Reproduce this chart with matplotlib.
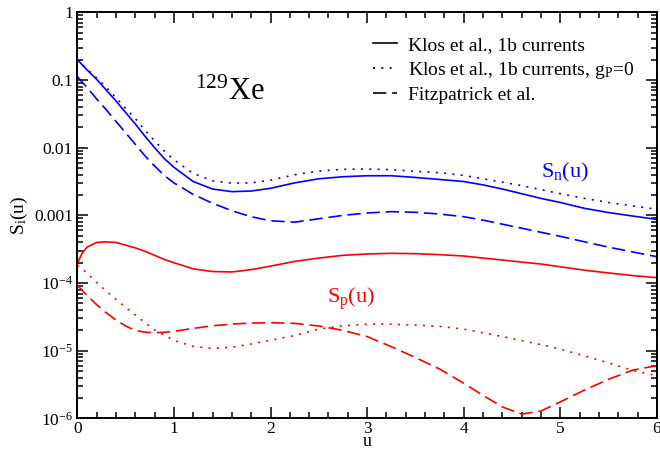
import matplotlib
matplotlib.use("Agg")
import matplotlib.pyplot as plt
from matplotlib.lines import Line2D
from matplotlib.ticker import FixedLocator, FixedFormatter, LogLocator, MultipleLocator, NullFormatter

plt.rcParams["font.family"] = ["Liberation Serif", "DejaVu Serif"]
plt.rcParams["mathtext.fontset"] = "custom"
plt.rcParams["mathtext.rm"] = "Liberation Serif"
plt.rcParams["mathtext.it"] = "Liberation Serif:italic"

# momentum transfer u
u = [0.0, 0.05, 0.1, 0.2, 0.3, 0.4, 0.5, 0.6, 0.7, 0.8, 0.9, 1.0,
     1.2, 1.4, 1.6, 1.8, 2.0, 2.25, 2.5, 2.75, 3.0, 3.25, 3.5, 3.75, 4.0,
     4.2, 4.4, 4.6, 4.8, 5.0, 5.25, 5.5, 5.75, 6.0]

# S_n(u)
sn_klos = [0.200, 0.168, 0.1413, 0.1023, 0.0708, 0.0490, 0.0331, 0.02239, 0.01479,
           0.0100, 0.00692, 0.00513, 0.00316, 0.00245, 0.00224, 0.00229, 0.00251,
           0.00302, 0.00347, 0.00372, 0.00385, 0.00385, 0.00363, 0.00339, 0.00316,
           0.00282, 0.00245, 0.00209, 0.00178, 0.00155, 0.00127, 0.00110, 0.000977, 0.000871]
sn_klos_gp0 = [0.200, 0.170, 0.1445, 0.107, 0.0776, 0.0550, 0.0380, 0.0269, 0.0182,
               0.0126, 0.00891, 0.00661, 0.00417, 0.00324, 0.00299, 0.00302, 0.00331,
               0.00398, 0.00452, 0.00479, 0.00484, 0.00473, 0.00447, 0.00427, 0.00389,
               0.00347, 0.00309, 0.00275, 0.00240, 0.00209, 0.00178, 0.00155, 0.00138, 0.00123]
sn_fitz = [0.1122, 0.0933, 0.0776, 0.0525, 0.0363, 0.0245, 0.0166, 0.01122, 0.00759,
           0.00537, 0.00389, 0.00302, 0.00204, 0.00151, 0.00117, 0.000955, 0.000832,
           0.000794, 0.000891, 0.001000, 0.001084, 0.001135, 0.001109, 0.001047, 0.000955,
           0.000851, 0.000741, 0.000646, 0.000562, 0.000490, 0.000407, 0.000339, 0.000288, 0.000245]

# S_p(u)
sp_klos = [1.95e-4, 2.75e-4, 3.39e-4, 3.98e-4, 4.07e-4, 3.98e-4, 3.63e-4, 3.31e-4, 2.95e-4,
           2.57e-4, 2.24e-4, 2.00e-4, 1.62e-4, 1.48e-4, 1.46e-4, 1.58e-4, 1.78e-4,
           2.09e-4, 2.34e-4, 2.57e-4, 2.69e-4, 2.75e-4, 2.72e-4, 2.63e-4, 2.51e-4,
           2.34e-4, 2.19e-4, 2.04e-4, 1.91e-4, 1.74e-4, 1.55e-4, 1.41e-4, 1.29e-4, 1.20e-4]
sp_klos_gp0 = [1.82e-4, 1.62e-4, 1.41e-4, 1.02e-4, 7.59e-5, 5.75e-5, 4.37e-5, 3.39e-5, 2.60e-5,
               2.04e-5, 1.70e-5, 1.43e-5, 1.16e-5, 1.08e-5, 1.13e-5, 1.26e-5, 1.43e-5,
               1.68e-5, 2.09e-5, 2.34e-5, 2.47e-5, 2.47e-5, 2.40e-5, 2.29e-5, 2.09e-5,
               1.84e-5, 1.62e-5, 1.41e-5, 1.23e-5, 1.06e-5, 8.41e-6, 6.61e-6, 5.13e-6, 4.27e-6]
sp_fitz = [9.33e-5, 7.76e-5, 6.61e-5, 4.79e-5, 3.63e-5, 2.85e-5, 2.32e-5, 2.00e-5, 1.88e-5,
           1.85e-5, 1.875e-5, 1.94e-5, 2.14e-5, 2.34e-5, 2.48e-5, 2.57e-5, 2.60e-5,
           2.54e-5, 2.32e-5, 2.00e-5, 1.62e-5, 1.15e-5, 7.94e-6, 5.37e-6, 3.31e-6,
           2.19e-6, 1.48e-6, 1.16e-6, 1.29e-6, 1.76e-6, 2.63e-6, 3.80e-6, 5.19e-6, 6.03e-6]

legend_labels = ["Klos et al., 1b currents",
                 r"Klos et al., 1b currents, g$_\mathrm{P}$=0",
                 "Fitzpatrick et al."]
ytick_vals = [1, 0.1, 0.01, 0.001, 1e-4, 1e-5, 1e-6]
ytick_labels = ["1", "0.1", "0.01", "0.001", r"$10^{-4}$", r"$10^{-5}$", r"$10^{-6}$"]

BLUE = "#0000ff"
RED = "#ff0000"
LW = 1.2
SOLID = "-"
DOT = (0, (1.2, 3.8))
DASH = (0, (8, 3.5))

fig = plt.figure(figsize=(6.6, 4.51), dpi=100)
ax = fig.add_axes([0.1171, 0.0721, 0.8783, 0.9007])

ax.plot(u, sn_klos, color=BLUE, lw=LW, ls=SOLID)
ax.plot(u, sn_klos_gp0, color=BLUE, lw=LW, ls=DOT)
ax.plot(u, sn_fitz, color=BLUE, lw=LW, ls=DASH)
ax.plot(u, sp_klos, color=RED, lw=LW, ls=SOLID)
ax.plot(u, sp_klos_gp0, color=RED, lw=LW, ls=DOT)
ax.plot(u, sp_fitz, color=RED, lw=LW, ls=DASH)

ax.set_yscale("log")
ax.set_xlim(0, 6)
ax.set_ylim(1e-6, 1)

ax.xaxis.set_major_locator(MultipleLocator(1))
ax.xaxis.set_minor_locator(MultipleLocator(0.2))
ax.yaxis.set_major_locator(FixedLocator(ytick_vals))
ax.yaxis.set_major_formatter(FixedFormatter(ytick_labels))
ax.yaxis.set_minor_locator(LogLocator(base=10, subs=range(2, 10), numticks=20))
ax.yaxis.set_minor_formatter(NullFormatter())

ax.tick_params(which="both", direction="in", top=True, right=True, width=1.1)
ax.tick_params(which="major", length=8, labelsize=12.5, pad=3)
ax.tick_params(axis="x", which="major", pad=2)
ax.tick_params(which="minor", length=4)
for sp in ax.spines.values():
    sp.set_linewidth(1.4)

ax.set_xlabel("u", fontsize=13, va="center")
ax.xaxis.set_label_coords(0.5, -0.057)
ax.set_ylabel(r"S$_\mathrm{i}$(u)", fontsize=14)
ax.yaxis.set_label_coords(-0.082, 0.5)

ax.text(0.203, 0.784, r"$^{129}$Xe", fontsize=22, transform=ax.transAxes,
        ha="left", va="baseline")
ax.text(0.800, 0.5945, r"S$_\mathrm{n}$(u)", fontsize=16, color=BLUE,
        transform=ax.transAxes, ha="left", va="baseline")
ax.text(0.430, 0.2836, r"S$_\mathrm{p}$(u)", fontsize=16, color=RED,
        transform=ax.transAxes, ha="left", va="baseline")

handles = [Line2D([], [], color="black", lw=LW, ls=SOLID),
           Line2D([], [], color="black", lw=LW, ls=DOT),
           Line2D([], [], color="black", lw=LW, ls=DASH)]
ax.legend(handles, legend_labels, loc="upper left", bbox_to_anchor=(0.510, 0.940),
          frameon=False, fontsize=14, handlelength=1.25, handletextpad=0.57,
          labelspacing=0.28, borderpad=0, borderaxespad=0)

fig.savefig("out.png", dpi=100)
plt.close(fig)
